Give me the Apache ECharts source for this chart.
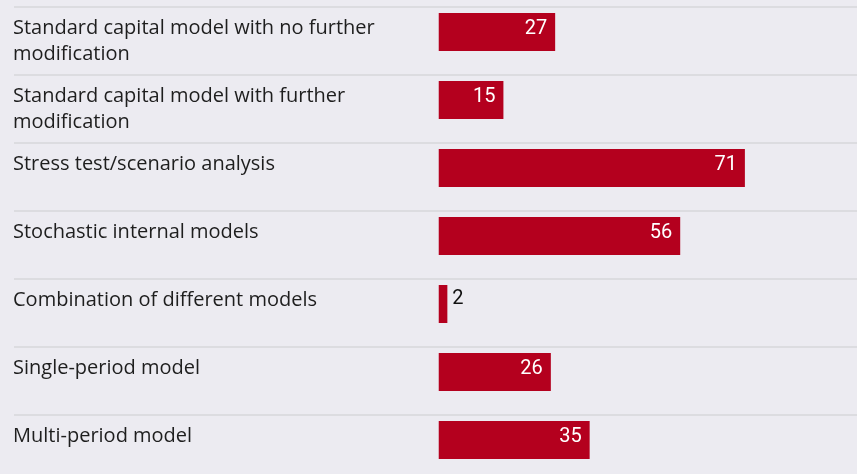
<!DOCTYPE html>
<html>
<head>
<meta charset="utf-8">
<script src="https://cdn.jsdelivr.net/npm/echarts@6/dist/echarts.min.js"></script>
<style>
  html, body { margin: 0; padding: 0; background: #ecebf1; }
  #chart { width: 857px; height: 474px; }
</style>
</head>
<body>
<div id="chart"></div>
<script>
let categories = [
  'Standard capital model with no further\nmodification',
  'Standard capital model with further\nmodification',
  'Stress test/scenario analysis',
  'Stochastic internal models',
  'Combination of different models',
  'Single-period model',
  'Multi-period model'
]
let values = [27, 15, 71, 56, 2, 26, 35]

let myChart = echarts.init(document.getElementById('chart'))
myChart.setOption({
  backgroundColor: '#ecebf1',
  animation: false,
  grid: {
    left: 14,
    right: 0,
    top: 7,
    height: 476,
    outerBoundsMode: 'none',
    containLabel: false
  },
  xAxis: {
    type: 'value',
    min: -98.5,
    max: 97,
    show: false
  },
  yAxis: {
    type: 'category',
    inverse: true,
    data: categories,
    axisLine: { show: false },
    axisTick: { show: false },
    splitLine: {
      show: true,
      lineStyle: { color: '#dcdce0', width: 2 }
    },
    axisLabel: {
      inside: true,
      margin: -1,
      align: 'left',
      verticalAlign: 'middle',
      fontFamily: 'Open Sans',
      fontSize: 20,
      lineHeight: 26,
      padding: [3, 0, 0, 0],
      color: '#1e1e1e',
      formatter: function (v) {
        // single-line labels sit on the first line too
        return v.indexOf('\n') < 0 ? v + '\n ' : v
      }
    }
  },
  series: [
    {
      type: 'bar',
      data: values.map(function (v) {
        if (v < 5) {
          return { value: v, label: { position: 'right', color: '#111', distance: 5, offset: [0, -5] } }
        }
        return v
      }),
      barWidth: 38,
      barGap: '-52.6%',
      itemStyle: { color: '#b4001e' },
      label: {
        show: true,
        position: 'insideRight',
        distance: 8,
        offset: [0, -3],
        color: '#fff',
        fontFamily: 'Roboto',
        fontSize: 20
      }
    },
    {
      // spacer so bars sit in the upper part of each row
      type: 'bar',
      data: [],
      barWidth: 38
    }
  ]
})
</script>
</body>
</html>
